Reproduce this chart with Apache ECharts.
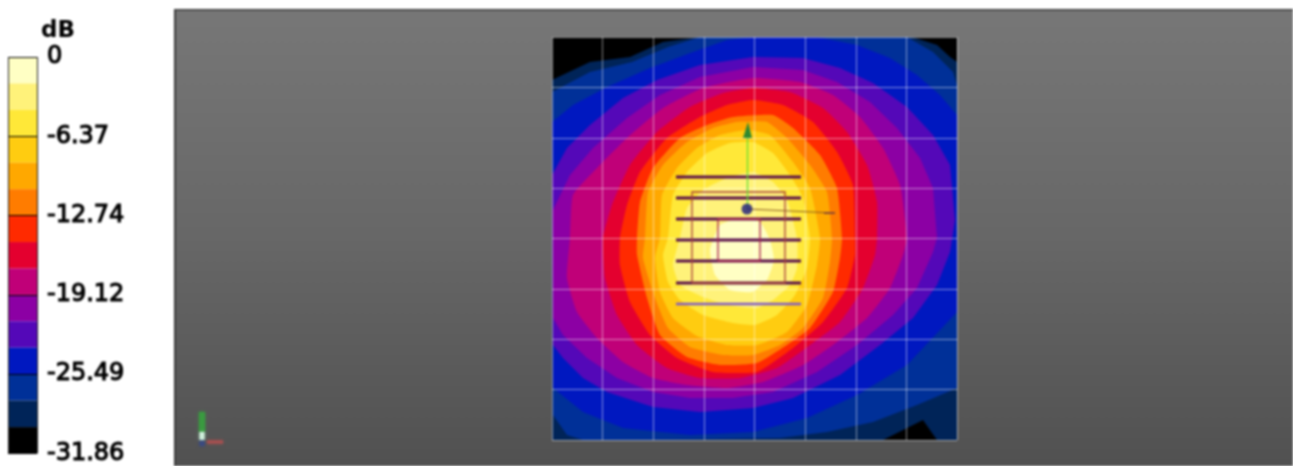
<!DOCTYPE html>
<html><head><meta charset="utf-8">
<style>html,body{margin:0;padding:0;background:#fff}#c{width:1293px;height:466px;filter:blur(0.8px)}</style>
<script src="https://cdn.jsdelivr.net/npm/echarts@6/dist/echarts.min.js"></script>
</head><body><div id="c"></div>
<script>
// dB levels of the colour scale, top to bottom
const levels = [0,-2.12,-4.25,-6.37,-8.50,-10.62,-12.74,-14.87,-16.99,-19.12,-21.24,-23.36,-25.49,-27.61,-29.74,-31.86];
const bandColors = ['#ffffc4','#fff27a','#ffe838','#ffcc10','#ffa800','#ff7c00','#ff2a00','#e4002f','#c00078','#8c00a4','#5408b8','#0018c0','#003098','#002458','#000000'];
const scaleTitle = 'dB';

// Contour outlines on the scan plane (plane units), outermost band first
const planeOutline = [[0,0],[405,0],[405,403],[0,403]];
const c29 = [[0,360],[38,378],[78,383],[111,398],[148,403],[360,403],[385,395],[398,383],[405,378],[405,0],[385,0],[371,20],[331,0],[0,0]];
const c27 = [[0,348],[38,368],[80,378],[116,393],[148,403],[355,403],[381,388],[401,368],[405,355],[405,52],[365,35],[321,18],[275,8],[228,2],[98,0],[31,0],[15,5],[1,25]];
const c25 = [[0,318],[21,335],[55,353],[98,372],[141,388],[175,400],[201,403],[265,403],[305,395],[338,382],[365,365],[388,345],[405,325],[405,128],[355,75],[305,45],[255,22],[201,8],[138,5],[71,12],[31,28],[1,52]];
const c23 = [[0,265],[15,292],[38,315],[71,342],[105,360],[148,375],[201,383],[251,382],[288,372],[321,357],[355,333],[381,305],[398,275],[403,220],[398,188],[385,155],[361,122],[328,95],[288,65],[241,42],[201,32],[148,28],[101,33],[55,48],[31,62],[11,82],[1,95]];
const c21 = [[1,230],[18,265],[41,292],[75,322],[108,345],[148,363],[201,373],[251,370],[285,358],[318,338],[345,312],[368,282],[381,252],[385,202],[381,188],[365,152],[341,125],[305,95],[265,68],[221,48],[181,42],[138,42],[101,48],[65,62],[35,82],[11,105],[1,122]];
const c19 = [[18,202],[21,245],[45,272],[75,302],[111,332],[151,352],[201,362],[248,358],[281,345],[308,323],[331,292],[348,255],[355,202],[351,185],[338,152],[315,122],[281,95],[251,75],[211,58],[175,52],[135,55],[101,62],[71,78],[45,102],[25,128],[15,162]];
const c17 = [[51,202],[60,235],[78,275],[105,308],[138,333],[171,347],[201,352],[238,348],[271,332],[295,308],[315,275],[325,238],[325,202],[323,185],[311,152],[288,118],[258,95],[225,72],[188,62],[148,62],[115,72],[85,95],[65,125],[53,162]];
const c15 = [[68,202],[75,235],[88,268],[115,302],[148,323],[175,335],[201,340],[231,335],[261,318],[285,288],[301,255],[303,202],[303,185],[295,152],[271,118],[241,92],[205,68],[161,68],[125,82],[98,105],[78,138],[68,175]];
const c13 = [[85,202],[88,238],[101,272],[128,302],[155,315],[181,323],[221,325],[241,312],[268,285],[285,252],[290,202],[288,182],[281,148],[258,112],[235,95],[205,77],[168,75],[135,83],[108,105],[95,142],[85,185]];
const c11 = [[93,202],[96,248],[111,275],[135,298],[161,312],[185,318],[215,318],[235,302],[258,275],[275,248],[280,202],[278,178],[271,142],[251,112],[228,95],[201,85],[171,85],[138,93],[116,112],[103,142],[91,182]];
const c9 = [[108,202],[110,245],[125,272],[145,292],[168,305],[195,310],[218,305],[241,278],[258,252],[268,202],[265,175],[255,135],[235,108],[205,95],[175,95],[145,104],[121,122],[108,148],[103,182]];
const c6 = [[116,202],[121,245],[135,268],[155,287],[178,297],[201,298],[221,287],[238,265],[251,242],[258,202],[255,172],[243,145],[225,125],[203,115],[181,117],[151,125],[128,140],[116,158],[111,185]];
const c4 = [[128,202],[135,232],[151,250],[175,262],[201,268],[221,258],[235,240],[245,202],[245,172],[238,155],[221,140],[205,132],[175,135],[151,143],[128,155],[121,175]];
const c2 = [[158,190],[168,215],[188,222],[208,218],[218,200],[222,180],[215,160],[200,148],[178,150],[163,165]];
const contours = [planeOutline,c29,c27,c25,c23,c21,c19,c17,c15,c13,c11,c9,c6,c4,c2];

// Antenna model on the plane
const barRows = [263,242,221,200,179,157];
const barLastRow = 136;
const barExtent = [124,249];
const outerFrame = [[140,157],[233,157],[233,248],[140,248],[140,157]];
const innerFrame = [[166,179],[208,179],[208,221],[166,221],[166,179]];
const axisY = [[195.5,230],[195.5,302]];
const axisYCone = [[191,302],[200,302],[196,318]];
const axisX = [[195,231],[281,227]];
const axisXTip = [[272,227],[283,227]];
const origin = [[195,231]];
// Small orientation triad near the lower-left corner
const triadGreen = [[-350,28],[-350,8]];
const triadWhite = [[-350,8],[-350,0]];
const triadRed = [[-345,-2],[-329,-2]];
const triadBlue = [[-350,-1],[-350,-6]];

const fontFamily = '"DejaVu Sans", sans-serif';

function polyRender(list, stylesFor, closed, smoothFor) {
  return function (params, api) {
    const i = params.dataIndex;
    const s = stylesFor(i);
    const points = list[i].map(p => api.coord(p));
    const shape = {points};
    if (smoothFor && smoothFor(i)) shape.smooth = smoothFor(i);
    return {type: closed ? 'polygon' : 'polyline', shape, style: s, silent: true};
  };
}

const overlayLines = [
  ...barRows.map(r => [[barExtent[0], r],[barExtent[1], r]]),
  [[barExtent[0], barLastRow],[barExtent[1], barLastRow]],
  outerFrame, innerFrame, axisY, axisX, axisXTip,
  triadGreen, triadWhite, triadRed, triadBlue
];
const overlayStyles = [
  ...barRows.map(() => ({stroke:'#5a1048', lineWidth:2.8})),
  {stroke:'#7f5cc4', lineWidth:2.4},
  {stroke:'#a8403c', lineWidth:1.3},
  {stroke:'#a82050', lineWidth:1.3},
  {stroke:'#58e030', lineWidth:1.2},
  {stroke:'#8a5a20', lineWidth:1},
  {stroke:'#8a4a30', lineWidth:2},
  {stroke:'#3a9a40', lineWidth:6, shadowBlur:3, shadowColor:'#3a9a40'},
  {stroke:'#d0f0dc', lineWidth:5, shadowBlur:3, shadowColor:'#a0d0b0'},
  {stroke:'#a85050', lineWidth:3, shadowBlur:3, shadowColor:'#a85050'},
  {stroke:'#3a4a80', lineWidth:5, shadowBlur:3, shadowColor:'#3a4a80'}
];

const option = {
  animation: false,
  backgroundColor: '#ffffff',
  title: {text: scaleTitle, left: 36, top: 15, textStyle: {fontFamily, fontSize: 23, fontWeight: 'bold', color:'#000'}},
  graphic: [{
    type: 'rect', z: -10, silent: true,
    shape: {x: 174, y: 9, width: 1119, height: 457},
    style: {fill: {type:'linear', x:0,y:0,x2:0,y2:1, colorStops:[
      {offset:0,color:'#777777'},{offset:0.5,color:'#676767'},{offset:0.75,color:'#5c5c5c'},{offset:1,color:'#515151'}]}}
  },{
    type: 'rect', z: -9, silent: true,
    shape: {x: 174, y: 9, width: 1119, height: 1.5},
    style: {fill: '#3c3c3c'}
  },{
    type: 'rect', z: -9, silent: true,
    shape: {x: 174, y: 9, width: 2, height: 457},
    style: {fill: '#3c3c3c'}
  }],
  grid: [
    {left: 552, top: 37, width: 405, height: 403, show: false},
    {left: 8, top: 57, width: 29, height: 399, show: false}
  ],
  xAxis: [
    {gridIndex:0, type:'value', min:0, max:405, interval:50.625, z:5,
     axisLabel:{show:false}, axisTick:{show:false}, axisLine:{show:false},
     splitLine:{show:true, lineStyle:{color:'rgba(255,255,255,0.5)', width:1}}},
    {gridIndex:1, type:'value', min:0, max:1, interval:1, z:5, axisLabel:{show:false}, axisTick:{show:false},
     axisLine:{show:false}, splitLine:{show:true, lineStyle:{color:'#222', width:1}}}
  ],
  yAxis: [
    {gridIndex:0, type:'value', min:0, max:403, interval:50.375, z:5,
     axisLabel:{show:false}, axisTick:{show:false}, axisLine:{show:false},
     splitLine:{show:true, lineStyle:{color:'rgba(255,255,255,0.5)', width:1}}},
    {gridIndex:1, type:'value', position:'right', min:-31.86, max:0, interval:6.372, z:5,
     axisLine:{show:false},
     axisTick:{show:true, length:8, lineStyle:{color:'#000', width:1}},
     splitLine:{show:true, lineStyle:{color:'#000', width:1}},
     axisLabel:{show:true, margin:10, padding:[4,0,0,0], fontFamily, fontSize:24, color:'#000', textBorderColor:'#000', textBorderWidth:1.1,
       formatter: v => Math.abs(v) < 1e-6 ? '0' : v.toFixed(2)}}
  ],
  series: [
    {type:'custom', name:'contours', coordinateSystem:'cartesian2d', xAxisIndex:0, yAxisIndex:0, z:2,
     silent:true, data: contours.map((c,i)=>[i]), encode:{x:0},
     renderItem: polyRender(contours, i => ({fill: bandColors[bandColors.length-1-i]}), true, i => i >= 6 ? 0.15 : 0)},
    {type:'custom', name:'model', coordinateSystem:'cartesian2d', xAxisIndex:0, yAxisIndex:0, z:8,
     silent:true, data: overlayLines.map((c,i)=>[i]), encode:{x:0}, clip:false,
     renderItem: polyRender(overlayLines, i => Object.assign({fill:'none'}, overlayStyles[i]), false)},
    {type:'custom', name:'cone', coordinateSystem:'cartesian2d', xAxisIndex:0, yAxisIndex:0, z:9,
     silent:true, data:[[0]], encode:{x:0},
     renderItem: polyRender([axisYCone], () => ({fill:'#2f8a30'}), true)},
    {type:'scatter', name:'origin', xAxisIndex:0, yAxisIndex:0, z:10, silent:true,
     data: origin, symbolSize:11, itemStyle:{color:'#1c1c80'}},
    {type:'custom', name:'scale', coordinateSystem:'cartesian2d', xAxisIndex:1, yAxisIndex:1, z:2,
     silent:true, data: bandColors.map((c,i)=>[i]), encode:{x:0},
     renderItem: function (params, api) {
       const i = params.dataIndex;
       const a = api.coord([0, levels[i]]), b = api.coord([1, levels[i+1]]);
       return {type:'rect', shape:{x:a[0], y:a[1], width:b[0]-a[0], height:b[1]-a[1]},
               style:{fill:bandColors[i]}, silent:true};
     }}
  ]
};
const chart = echarts.init(document.getElementById('c'), null, {renderer:'canvas'});
chart.setOption(option);
</script>
</body></html>
